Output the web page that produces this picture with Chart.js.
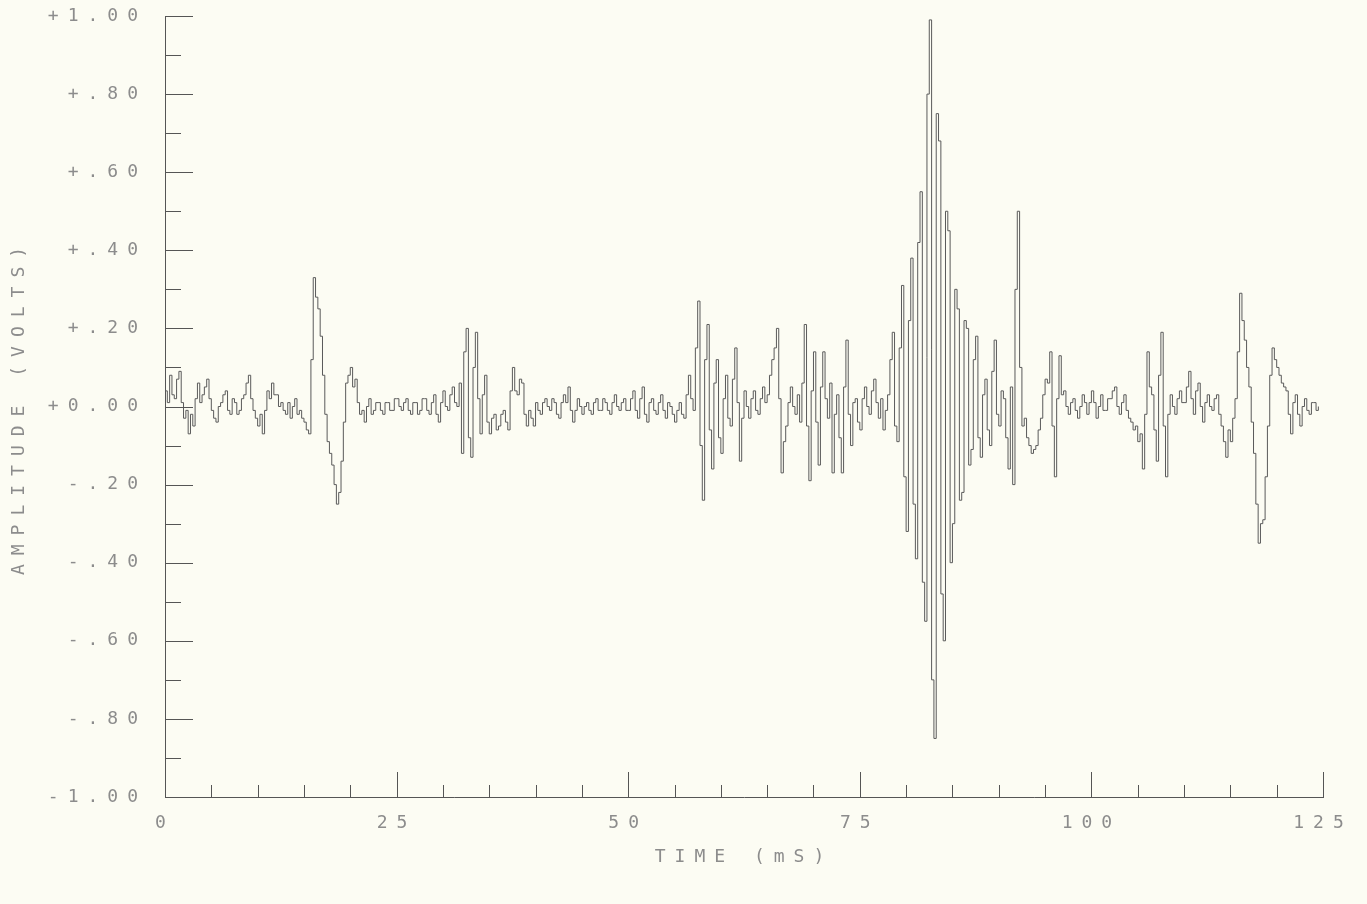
<!DOCTYPE html>
<html>
<head>
<meta charset="utf-8">
<script src="https://cdn.jsdelivr.net/npm/chart.js@4.4.1/dist/chart.umd.min.js"></script>
<style>
  html, body { margin: 0; padding: 0; background: #fcfcf3; }
  #wrap { width: 1367px; height: 904px; }
</style>
</head>
<body>
<div id="wrap"><canvas id="chart"></canvas></div>
<script>
const PAPER = "#fcfcf3";
const INK = "#5a5a5a";
const AXIS_INK = "#555555";
const LABEL_INK = "#8c8c8c";

// one sample every 0.25 ms
const SAMPLE_MS = 0.25;
const amplitude = [
  0.04, 0.01, 0.08, 0.03, 0.02, 0.07, 0.09, 0.01, -0.03, -0.01, -0.07, -0.02, -0.05, 0.02, 0.06, 0.01, 0.03, 0.05, 0.07, 0.02,
  -0.01, -0.03, -0.04, 0.00, 0.01, 0.03, 0.04, -0.01, -0.02, 0.02, 0.01, -0.02, -0.01, 0.02, 0.03, 0.06, 0.08, 0.02, -0.01, -0.03,
  -0.05, -0.02, -0.07, -0.01, 0.04, 0.02, 0.06, 0.03, 0.03, 0.00, 0.01, -0.01, -0.02, 0.01, -0.03, 0.00, 0.02, -0.02, -0.01, -0.03,
  -0.04, -0.06, -0.07, 0.12, 0.33, 0.28, 0.25, 0.18, 0.08, -0.02, -0.09, -0.12, -0.15, -0.20, -0.25, -0.22, -0.14, -0.04, 0.06, 0.08,
  0.10, 0.05, 0.07, 0.01, -0.02, -0.01, -0.04, 0.00, 0.02, -0.02, -0.01, 0.01, 0.01, -0.01, -0.02, 0.01, 0.01, -0.01, -0.01, 0.02,
  0.02, 0.00, -0.01, 0.01, 0.02, -0.01, -0.02, 0.01, 0.01, -0.02, -0.01, 0.02, 0.02, -0.01, -0.02, 0.01, 0.03, -0.02, -0.04, 0.01,
  0.04, 0.00, -0.01, 0.03, 0.05, 0.01, 0.00, 0.06, -0.12, 0.14, 0.20, -0.08, -0.13, 0.10, 0.19, 0.02, -0.07, 0.03, 0.08, -0.04,
  -0.07, -0.03, -0.02, -0.06, -0.05, -0.02, -0.01, -0.04, -0.06, 0.04, 0.10, 0.04, 0.03, 0.07, 0.06, -0.02, -0.05, -0.01, -0.03, -0.05,
  0.01, -0.01, -0.02, 0.01, 0.02, 0.00, -0.01, 0.02, 0.01, -0.02, -0.03, 0.01, 0.03, 0.01, 0.05, -0.01, -0.04, -0.01, 0.02, 0.00,
  -0.02, 0.00, 0.01, -0.01, -0.02, 0.01, 0.02, -0.01, -0.01, 0.02, 0.01, -0.01, -0.02, 0.01, 0.03, 0.00, -0.01, 0.01, 0.02, -0.01,
  -0.01, 0.02, 0.04, -0.01, -0.03, 0.02, 0.05, -0.02, -0.04, 0.01, 0.02, -0.01, -0.02, 0.01, 0.03, -0.01, -0.03, 0.01, 0.00, -0.02,
  -0.04, -0.01, 0.01, -0.02, -0.03, 0.03, 0.08, 0.02, -0.01, 0.15, 0.27, -0.10, -0.24, 0.12, 0.21, -0.06, -0.16, 0.06, 0.12, -0.08,
  -0.12, 0.02, 0.08, -0.03, -0.05, 0.07, 0.15, 0.01, -0.14, -0.03, 0.04, 0.00, -0.03, 0.02, 0.04, -0.01, -0.02, 0.02, 0.05, 0.01,
  0.03, 0.08, 0.12, 0.15, 0.20, 0.02, -0.17, -0.09, -0.05, 0.01, 0.05, 0.00, -0.02, 0.03, -0.04, 0.06, 0.21, -0.05, -0.19, 0.04,
  0.14, -0.04, -0.15, 0.05, 0.14, 0.02, -0.03, 0.06, -0.17, -0.02, 0.03, -0.08, -0.17, 0.05, 0.17, -0.02, -0.10, 0.01, 0.02, -0.04,
  -0.06, 0.02, 0.05, 0.00, -0.02, 0.04, 0.07, 0.01, -0.03, 0.02, -0.06, -0.01, 0.03, 0.12, 0.19, -0.05, -0.09, 0.15, 0.31, -0.18,
  -0.32, 0.22, 0.38, -0.25, -0.39, 0.42, 0.55, -0.45, -0.55, 0.80, 0.99, -0.70, -0.85, 0.75, 0.68, -0.48, -0.60, 0.50, 0.45, -0.40,
  -0.30, 0.30, 0.25, -0.24, -0.22, 0.22, 0.20, -0.15, -0.11, 0.12, 0.18, -0.08, -0.13, 0.03, 0.07, -0.06, -0.10, 0.09, 0.17, -0.02,
  -0.05, 0.04, 0.02, -0.08, -0.16, 0.05, -0.20, 0.30, 0.50, 0.10, -0.05, -0.03, -0.08, -0.10, -0.12, -0.11, -0.10, -0.06, -0.03, 0.03,
  0.07, 0.06, 0.14, -0.05, -0.18, 0.02, 0.13, 0.03, 0.04, 0.00, -0.02, 0.01, 0.02, -0.01, -0.03, 0.00, 0.03, 0.01, -0.02, 0.01,
  0.04, 0.01, -0.03, 0.00, 0.03, -0.01, -0.01, 0.02, 0.02, 0.04, 0.05, 0.00, -0.02, 0.01, 0.03, -0.01, -0.03, -0.04, -0.06, -0.05,
  -0.09, -0.07, -0.16, -0.02, 0.14, 0.05, 0.03, -0.06, -0.14, 0.08, 0.19, -0.05, -0.18, -0.02, 0.03, 0.00, -0.02, 0.02, 0.04, 0.01,
  0.01, 0.05, 0.09, 0.02, -0.02, 0.04, 0.06, 0.00, -0.04, 0.01, 0.03, 0.00, -0.01, 0.02, 0.03, -0.02, -0.05, -0.09, -0.13, -0.06,
  -0.09, -0.03, 0.02, 0.14, 0.29, 0.22, 0.17, 0.10, 0.05, -0.04, -0.12, -0.25, -0.35, -0.30, -0.29, -0.18, -0.05, 0.08, 0.15, 0.12,
  0.10, 0.08, 0.06, 0.05, 0.04, -0.02, -0.07, 0.01, 0.03, -0.02, -0.05, 0.00, 0.02, -0.01, -0.02, 0.01, 0.01, -0.01, 0.00
];

const xTickLabels = ["0", "25", "50", "75", "100", "125"];
const yTickLabels = ["-1.00", "-.80", "-.60", "-.40", "-.20", "+0.00", "+.20", "+.40", "+.60", "+.80", "+1.00"];

const points = amplitude.map((v, i) => ({ x: i * SAMPLE_MS, y: v }));

// paper colour, plotter letter spacing, and the inward tick marks
const plotterAxes = {
  id: "plotterAxes",
  beforeDraw(chart) {
    const ctx = chart.ctx;
    ctx.save();
    ctx.fillStyle = PAPER;
    ctx.fillRect(0, 0, chart.width, chart.height);
    ctx.restore();
    ctx.letterSpacing = "9px";
  },
  afterDraw(chart) {
    const { ctx, scales: { x, y } } = chart;
    ctx.save();
    ctx.strokeStyle = AXIS_INK;
    ctx.lineWidth = 1;
    ctx.beginPath();
    y.ticks.forEach((t) => {
      const py = Math.round(y.getPixelForValue(t.value)) + 0.5;
      const major = Math.round(t.value * 10) % 2 === 0;
      ctx.moveTo(y.right, py);
      ctx.lineTo(y.right + (major ? 28 : 16), py);
    });
    x.ticks.forEach((t) => {
      const px = Math.round(x.getPixelForValue(t.value)) + 0.5;
      const major = Math.round(t.value) % 25 === 0;
      ctx.moveTo(px, x.top);
      ctx.lineTo(px, x.top - (major ? 25 : 12));
    });
    ctx.stroke();
    ctx.restore();
  },
};

const monoFont = { family: "'DejaVu Sans Mono', monospace", size: 18 };

new Chart(document.getElementById("chart"), {
  type: "line",
  data: {
    datasets: [
      {
        data: points,
        borderColor: INK,
        borderWidth: 1,
        pointRadius: 0,
        stepped: true,
        fill: false,
      },
    ],
  },
  options: {
    responsive: true,
    maintainAspectRatio: false,
    animation: false,
    layout: { padding: { top: 16, right: 44, bottom: 0, left: 0 } },
    plugins: { legend: { display: false }, tooltip: { enabled: false } },
    scales: {
      x: {
        type: "linear",
        min: 0,
        max: 125,
        grid: { display: false, drawTicks: false },
        border: { display: true, color: AXIS_INK, width: 1 },
        ticks: {
          stepSize: 5,
          autoSkip: false,
          maxRotation: 0,
          padding: 16,
          color: LABEL_INK,
          font: monoFont,
          callback: (v) => (Math.round(v) % 25 === 0 ? xTickLabels[Math.round(v) / 25] : ""),
        },
        title: {
          display: true,
          text: "TIME (mS)",
          color: LABEL_INK,
          font: monoFont,
          padding: { top: 0, bottom: 36 },
        },
        afterFit: (scale) => { scale.height = 107; },
      },
      y: {
        min: -1,
        max: 1,
        grid: { display: false, drawTicks: false },
        border: { display: true, color: AXIS_INK, width: 1 },
        ticks: {
          stepSize: 0.1,
          autoSkip: false,
          padding: 18,
          color: LABEL_INK,
          font: monoFont,
          callback: (v) => {
            const k = Math.round(v * 10);
            return k % 2 === 0 ? yTickLabels[(k + 10) / 2] : "";
          },
        },
        title: {
          display: true,
          text: "AMPLITUDE (VOLTS)",
          color: LABEL_INK,
          font: monoFont,
          padding: { top: 9, bottom: 0 },
        },
        afterFit: (scale) => {
          scale.width = 165;
          scale.paddingTop = 0;
          scale.paddingBottom = 0;
        },
      },
    },
  },
  plugins: [plotterAxes],
});
</script>
</body>
</html>
